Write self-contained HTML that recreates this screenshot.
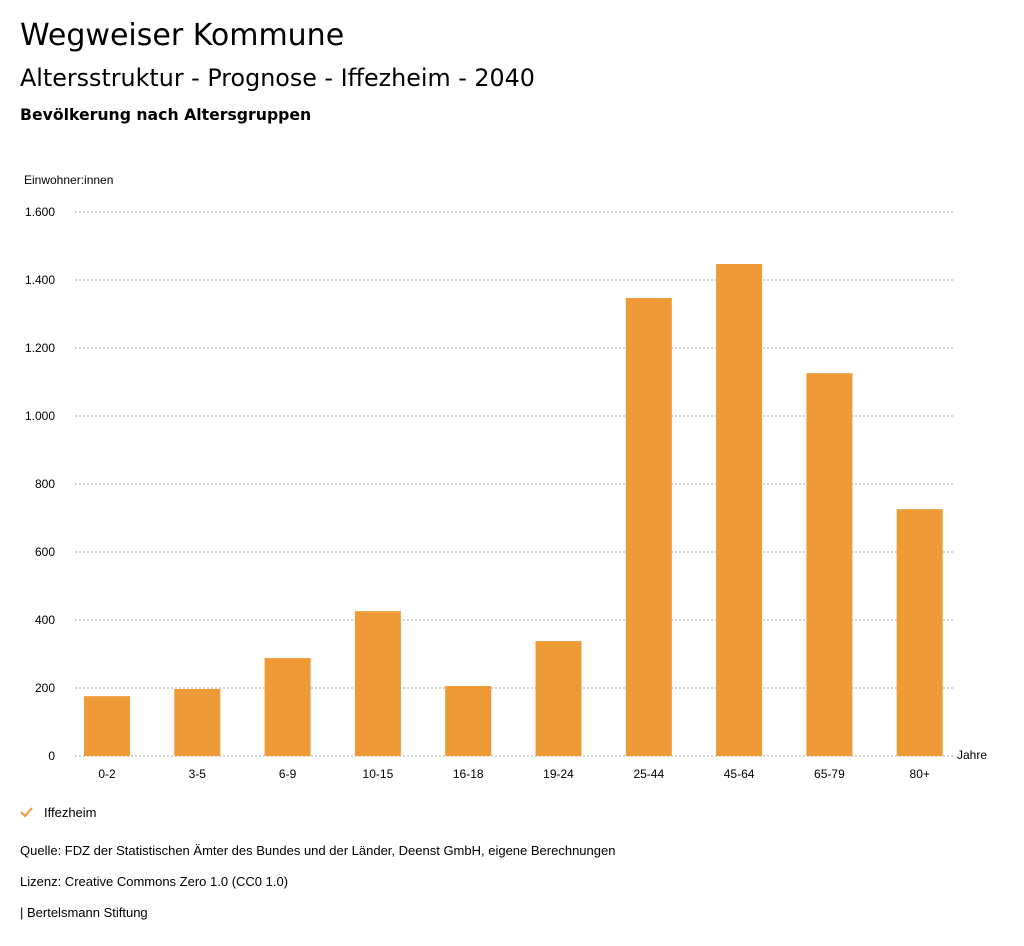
<!DOCTYPE html>
<html><head><meta charset="utf-8">
<style>
body{margin:0;background:#fff;font-family:"Liberation Sans","DejaVu Sans",sans-serif;color:#000;}
#wrap{position:relative;width:1024px;height:946px;overflow:hidden;}
.t{position:absolute;white-space:nowrap;}
.h{font-family:"DejaVu Sans",sans-serif;}
</style></head>
<body>
<div id="wrap">
<div class="t h" style="left:20px;top:18px;font-size:30px;">Wegweiser Kommune</div>
<div class="t h" style="left:20px;top:64px;font-size:23.8px;">Altersstruktur - Prognose - Iffezheim - 2040</div>
<div class="t h" style="left:20px;top:105px;font-size:15.7px;font-weight:bold;">Bevölkerung nach Altersgruppen</div>
<svg id="chart" width="1024" height="946" style="position:absolute;left:0;top:0"></svg>
<div class="t" style="left:20px;top:843px;font-size:13px;">Quelle: FDZ der Statistischen Ämter des Bundes und der Länder, Deenst GmbH, eigene Berechnungen</div>
<div class="t" style="left:20px;top:874px;font-size:13px;">Lizenz: Creative Commons Zero 1.0 (CC0 1.0)</div>
<div class="t" style="left:20px;top:905px;font-size:13px;">| Bertelsmann Stiftung</div>
</div>
<script>
const categories=["0-2","3-5","6-9","10-15","16-18","19-24","25-44","45-64","65-79","80+"];
const values=[176,197,288,426,206,338,1347,1447,1126,726];
const yTicks=[0,200,400,600,800,1000,1200,1400,1600];
const yTickLabels=["0","200","400","600","800","1.000","1.200","1.400","1.600"];
const NS="http://www.w3.org/2000/svg";
const svg=document.getElementById('chart');
const y0=756,yMax=1600,yTop=212;
const y=v=>y0-(v/yMax)*(y0-yTop);
const x=i=>107+i*90.3;
function mk(tag,attrs,text){const e=document.createElementNS(NS,tag);for(const k in attrs)e.setAttribute(k,attrs[k]);if(text!=null)e.textContent=text;svg.appendChild(e);return e;}
yTicks.forEach((t,i)=>{
 const g=mk('line',{x1:75,x2:953,y1:y(t),y2:y(t),stroke:'#aaa','stroke-dasharray':'2,2','stroke-width':1});
 
 
 const l=mk('text',{x:55,y:y(t)+4,'text-anchor':'end','font-size':12,'font-family':'Liberation Sans, sans-serif'},yTickLabels[i]);
 
 
});
const yt=mk('text',{x:24,y:184,'font-size':12,'font-family':'Liberation Sans, sans-serif'},'Einwohner:innen');


const xt=mk('text',{x:957,y:759,'font-size':12,'font-family':'Liberation Sans, sans-serif'},'Jahre');


categories.forEach((c,i)=>{
 const b=mk('rect',{x:x(i)-23,y:y(values[i]),width:46,height:y0-y(values[i]),fill:'#ee9a37'});
 
 
 const l=mk('text',{x:x(i),y:778,'text-anchor':'middle','font-size':12,'font-family':'Liberation Sans, sans-serif'},c);
 
 
});
const chk=mk('path',{d:'M21 812 L25 816 L32 808',stroke:'#ee9a37','stroke-width':2,fill:'none'});


const lt=mk('text',{x:44,y:817,'font-size':13,'font-family':'Liberation Sans, sans-serif'},'Iffezheim');


</script>
</body></html>
